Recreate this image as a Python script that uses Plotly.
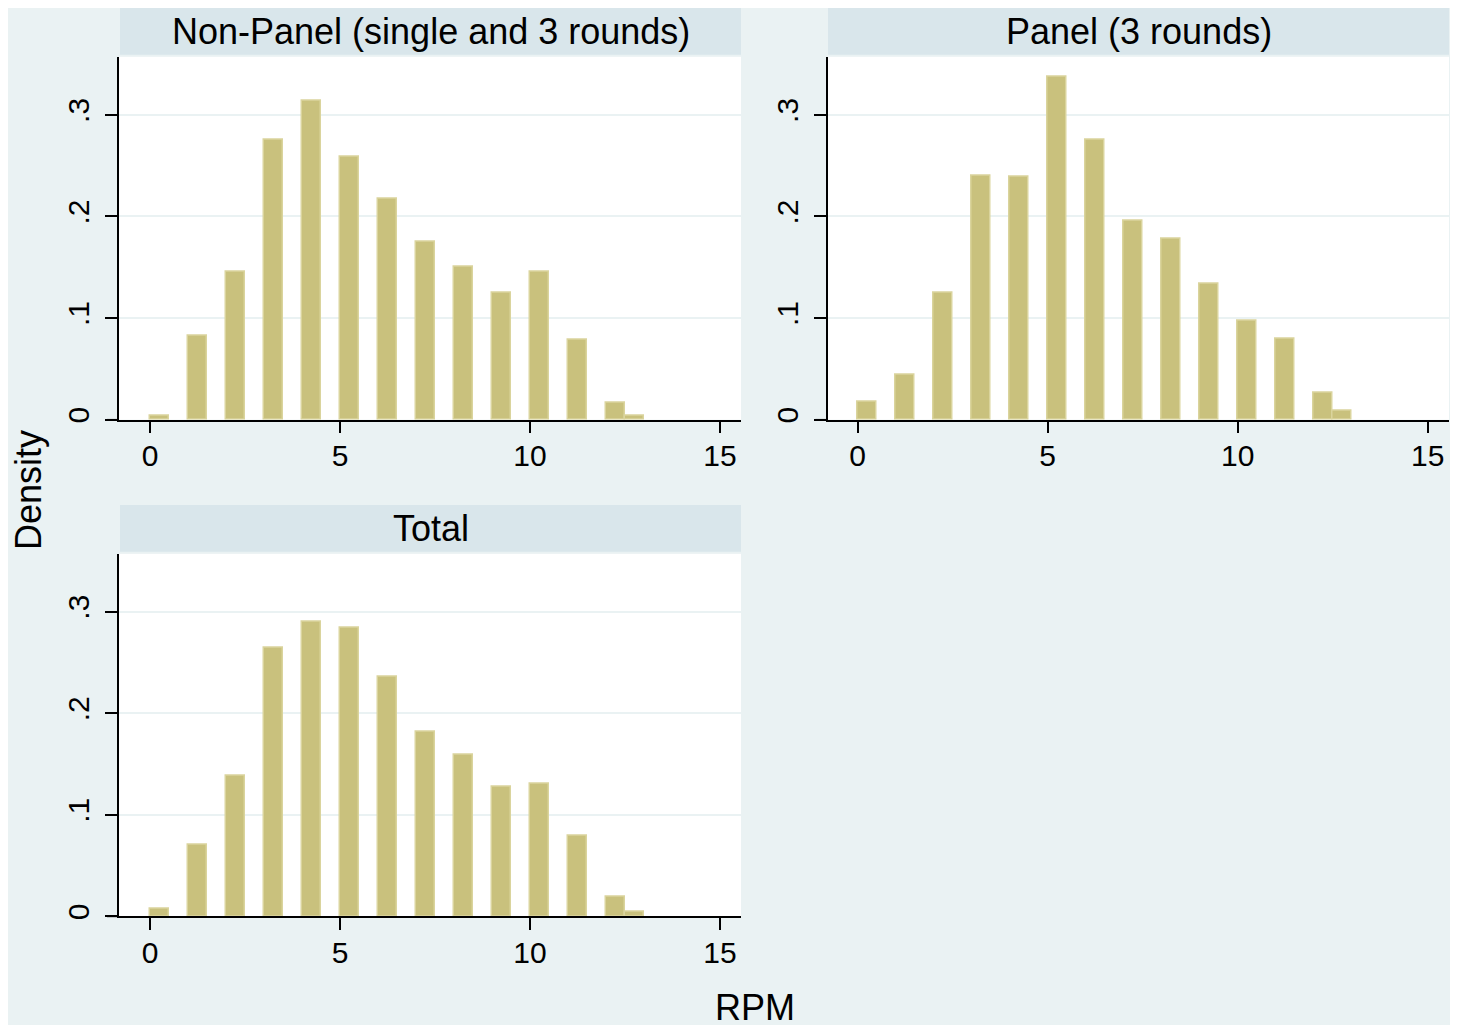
import plotly.graph_objects as go

# ---- data (density per 0.5-wide bin; bins start at these RPM values) ----
bin_left = [0, 1, 2, 3, 4, 5, 6, 7, 8, 9, 10, 11, 12, 12.5]
bin_width = 0.5
non_panel = [0.0035, 0.083, 0.146, 0.2755, 0.3134, 0.259, 0.217, 0.175, 0.150, 0.125, 0.146, 0.079, 0.0163, 0.0035]
panel = [0.0176, 0.0444, 0.1245, 0.240, 0.2395, 0.3375, 0.2755, 0.1954, 0.1777, 0.1333, 0.0973, 0.0797, 0.0265, 0.0088]
total = [0.0076, 0.0703, 0.1384, 0.264, 0.290, 0.284, 0.2355, 0.1815, 0.1587, 0.1273, 0.1302, 0.0792, 0.0193, 0.005]
titles = ["Non-Panel (single and 3 rounds)", "Panel (3 rounds)", "Total"]
x_ticks = [0, 5, 10, 15]
y_ticks = [0, 0.1, 0.2, 0.3]
y_ticktext = ["0", ".1", ".2", ".3"]
x_title = "RPM"
y_title = "Density"

W, H = 1458, 1025
OFFX, OFFY = 8, 8   # page body margin
BG = "#EAF2F3"
STRIP = "#D9E6EB"
BAR = "#C9C17D"
BAR_LINE = "#DAD49D"
FONT = "Liberation Sans, Arial, Helvetica, sans-serif"


def px(xp):
    return (xp - OFFX) / W


def py(yp):
    return 1 - (yp - OFFY) / H


# panel boxes in window pixels: (left, right, top, bottom)
boxes = [(119, 741, 57, 421.3), (827.5, 1449, 57, 421.3), (119, 741, 556, 920)]
strips = [(120, 741, 8, 55), (828, 1449, 8, 55), (120, 741, 507, 554)]
x_zero_px = [150, 857.7, 150]
ppu_x = 38.0
ppu_y = 1020.0

fig = go.Figure()
series = [non_panel, panel, total]
for i, vals in enumerate(series):
    ax = "" if i == 0 else str(i + 1)
    fig.add_trace(go.Bar(
        x=[b + bin_width / 2 for b in bin_left], y=vals, width=bin_width,
        marker=dict(color=BAR, line=dict(color=BAR_LINE, width=1.5)),
        xaxis="x" + ax, yaxis="y" + ax, showlegend=False, hoverinfo="x+y",
    ))

layout = dict(
    width=W, height=H, margin=dict(l=0, r=0, t=0, b=0),
    paper_bgcolor=BG, plot_bgcolor="white", bargap=0,
    font=dict(family=FONT, color="black", size=30),
    shapes=[], annotations=[],
)

for i, (l, r, t, b) in enumerate(boxes):
    ax = "" if i == 0 else str(i + 1)
    x0 = x_zero_px[i]
    xr = [(l - x0) / ppu_x, (r - x0) / ppu_x]
    yr = [0, (b - t) / ppu_y]
    layout["xaxis" + ax] = dict(
        domain=[px(l), px(r)], range=xr, anchor="y" + ax,
        tickvals=x_ticks, ticktext=[str(v) for v in x_ticks],
        showline=True, linecolor="black", linewidth=1.5,
        ticks="outside", ticklen=12, tickwidth=1.5, tickcolor="black",
        showgrid=False, zeroline=False, tickfont=dict(size=30), ticklabelstandoff=-3,
    )
    layout["yaxis" + ax] = dict(
        domain=[py(b), py(t)], range=yr, anchor="x" + ax,
        tickvals=y_ticks, ticktext=y_ticktext, tickangle=-90,
        showline=True, linecolor="black", linewidth=1.5,
        ticks="outside", ticklen=12, tickwidth=1.5, tickcolor="black",
        showgrid=True, gridcolor=BG, gridwidth=2, zeroline=False,
        tickfont=dict(size=30), ticklabelstandoff=4,
    )
    # x axis line extension to the left (Stata style)
    layout["shapes"].append(dict(type="line", xref="paper", yref="paper",
                                 x0=px(l - 12), x1=px(l), y0=py(b), y1=py(b),
                                 line=dict(color="black", width=1.5)))

for (l, r, t, b), title in zip(strips, titles):
    layout["shapes"].append(dict(type="rect", xref="paper", yref="paper",
                                 x0=px(l), x1=px(r), y0=py(b), y1=py(t),
                                 fillcolor=STRIP, line=dict(width=0), layer="below"))
    layout["annotations"].append(dict(text=title, xref="paper", yref="paper",
                                      x=px((l + r) / 2), y=py((t + b) / 2),
                                      showarrow=False, font=dict(size=36),
                                      xanchor="center", yanchor="middle"))

layout["annotations"].append(dict(text=y_title, xref="paper", yref="paper", x=px(28), y=py(492),
                                  textangle=-90, showarrow=False, font=dict(size=36),
                                  xanchor="center", yanchor="middle"))
layout["annotations"].append(dict(text=x_title, xref="paper", yref="paper", x=px(755), y=py(989),
                                  showarrow=False, font=dict(size=36),
                                  xanchor="center", yanchor="top"))

fig.update_layout(**layout)
fig.write_html("out.html")
